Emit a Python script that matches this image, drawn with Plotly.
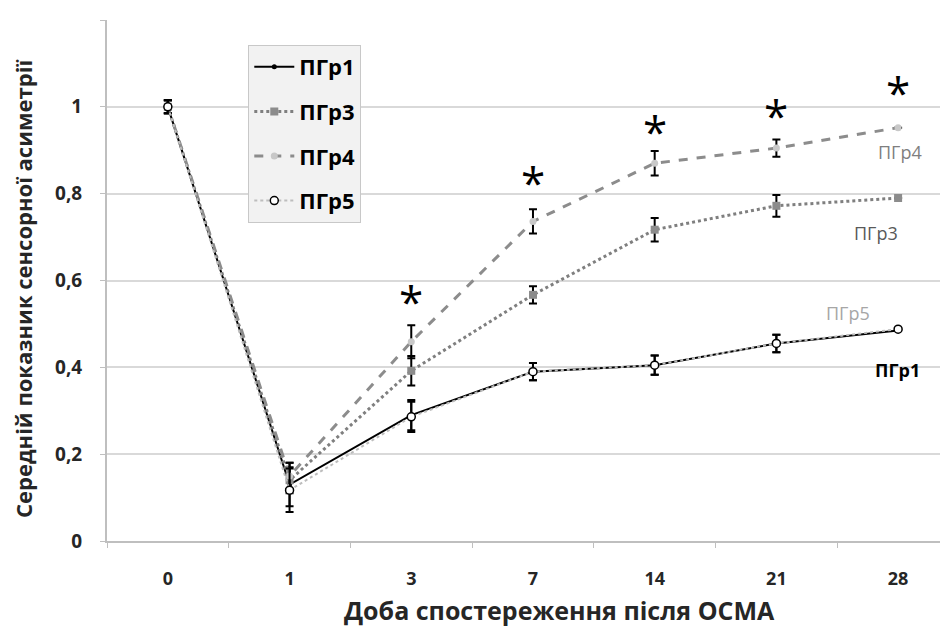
import plotly.graph_objects as go

days = ["0", "1", "3", "7", "14", "21", "28"]

g1 = [1.00, 0.13, 0.29, 0.39, 0.405, 0.455, 0.485]
g1_err = [0.015, 0.05, 0.035, 0.02, 0.022, 0.02, 0.0]
g3 = [1.00, 0.14, 0.392, 0.567, 0.717, 0.772, 0.79]
g3_err = [0.015, 0.03, 0.034, 0.02, 0.027, 0.025, 0.0]
g4 = [1.00, 0.15, 0.459, 0.736, 0.87, 0.905, 0.952]
g4_err = [0.015, 0.03, 0.038, 0.028, 0.028, 0.02, 0.0]
g5 = [1.00, 0.117, 0.286, 0.39, 0.405, 0.455, 0.488]
g5_err = [0.015, 0.05, 0.035, 0.02, 0.022, 0.02, 0.0]

star_days = ["3", "7", "14", "21", "28"]
star_y = [0.552, 0.828, 0.944, 0.982, 1.034]

end_labels = ["ПГр4", "ПГр3", "ПГр5", "ПГр1"]
end_label_y = [0.896, 0.71, 0.525, 0.394]

x_title = "Доба спостереження після ОСМА"
y_title = "Середній показник сенсорної асиметрії"

FONT = "Open Sans"

fig = go.Figure()

def err(arr):
    return dict(type="data", array=arr, color="black", thickness=2, width=4, visible=True)

fig.add_trace(go.Scatter(
    x=days, y=g1, name="ПГр1", mode="lines+markers", legendgroup="a",
    line=dict(color="black", width=2),
    marker=dict(symbol="circle", size=5, color="black"),
    error_y=err(g1_err)))
fig.add_trace(go.Scatter(
    x=days, y=g3, name="ПГр3", mode="lines+markers", legendgroup="b",
    line=dict(color="#7f7f7f", width=3, dash="dot"),
    marker=dict(symbol="square", size=8, color="#8c8c8c"),
    error_y=err(g3_err)))
fig.add_trace(go.Scatter(
    x=days, y=g4, name="ПГр4", mode="lines+markers", legendgroup="c",
    line=dict(color="#8c8c8c", width=3, dash="dash"),
    marker=dict(symbol="circle", size=7, color="#c8c8c8"),
    error_y=err(g4_err)))
fig.add_trace(go.Scatter(
    x=days, y=g5, name="ПГр5", mode="lines+markers", legendgroup="d",
    line=dict(color="#bdbdbd", width=2, dash="dot"),
    marker=dict(symbol="circle", size=8, color="white",
                line=dict(color="black", width=1.5)),
    error_y=err(g5_err)))

for d, y in zip(star_days, star_y):
    fig.add_annotation(x=days.index(d), y=y, text="*", showarrow=False,
                       font=dict(family=FONT, size=44, color="black"),
                       yanchor="middle")

label_styles = [
    dict(color="#7f7f7f", weight="normal", xshift=2),
    dict(color="#595959", weight="normal", xshift=-22),
    dict(color="#a6a6a6", weight="normal", xshift=-50),
    dict(color="black", weight="bold", xshift=-1),
]
for t, y, st in zip(end_labels, end_label_y, label_styles):
    fig.add_annotation(x=days.index("28"), y=y, text=t, showarrow=False, xshift=st["xshift"],
                       font=dict(family=FONT, size=18, color=st["color"], weight=st["weight"]))

# axis titles
fig.add_annotation(xref="paper", yref="paper", x=0.5386, y=-0.1325, text=x_title,
                   showarrow=False, xanchor="center", yanchor="middle",
                   font=dict(family=FONT, size=25, color="#262626", weight="bold"))
fig.add_annotation(xref="paper", yref="paper", x=-0.0999, y=0.4856, text=y_title,
                   showarrow=False, textangle=-90, xanchor="center", yanchor="middle",
                   font=dict(family=FONT, size=22, color="#262626", weight="bold"))

fig.update_layout(
    width=948, height=633,
    margin=dict(l=99, r=8, t=12, b=100),
    paper_bgcolor="white", plot_bgcolor="white",
    separators=", ",
    font=dict(family=FONT, color="#262626"),
    legend=dict(
        x=0.168, y=0.952, xanchor="left", yanchor="top",
        bgcolor="#f2f2f2", bordercolor="#c8c8c8", borderwidth=1,
        font=dict(family=FONT, size=22, color="black", weight="bold"),
        tracegroupgap=13, itemwidth=40,
    ),
    xaxis=dict(
        type="category", categoryorder="array", categoryarray=days,
        range=[-0.5, 6.41], automargin=False,
        showgrid=False, showline=True, linecolor="#bfbfbf", linewidth=2,
        ticks="outside", tickson="boundaries", ticklen=5, tickcolor="#bfbfbf", tickwidth=1,
        tickfont=dict(family=FONT, size=18, color="#262626", weight="bold"),
        ticklabelstandoff=20,
    ),
    yaxis=dict(
        range=[0, 1.2], tickvals=[0, 0.2, 0.4, 0.6, 0.8, 1.0, 1.2], automargin=False,
        showgrid=True, gridcolor="#d9d9d9", gridwidth=2,
        showline=True, linecolor="#bfbfbf", linewidth=2,
        ticks="outside", ticklen=5, tickcolor="#bfbfbf", tickwidth=1,
        tickfont=dict(family=FONT, size=19, color="#262626", weight="bold"),
        ticklabelstandoff=14, zeroline=False,
    ),
)

fig.write_html("out.html")
